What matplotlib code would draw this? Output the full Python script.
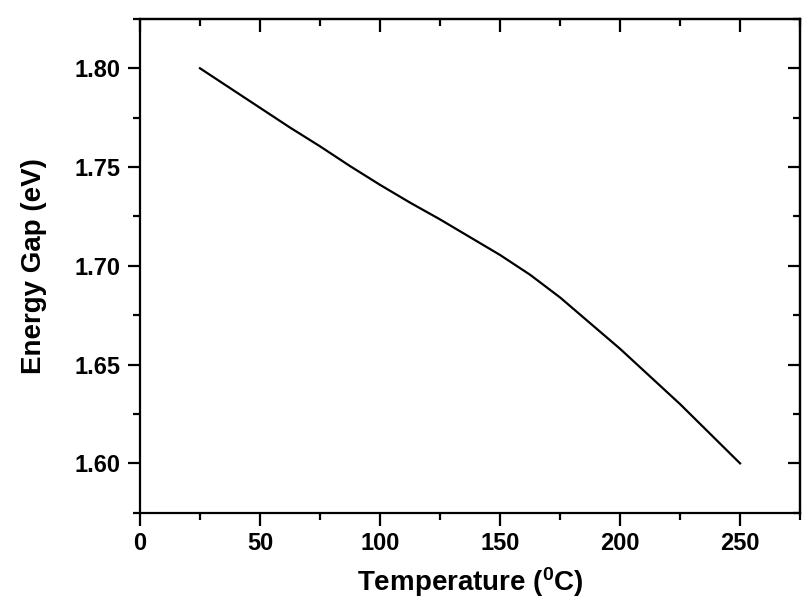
import numpy as np
import matplotlib
matplotlib.use('Agg')
import matplotlib.pyplot as plt
from matplotlib.ticker import MultipleLocator

plt.rcParams['font.family'] = ['Liberation Sans', 'DejaVu Sans']
plt.rcParams['font.weight'] = 'bold'
plt.rcParams['mathtext.fontset'] = 'custom'
plt.rcParams['mathtext.rm'] = 'Liberation Sans:bold'
plt.rcParams['mathtext.default'] = 'rm'

# temperature (C) and energy gap (eV)
temperature = [25, 37.5, 50, 62.5, 75, 87.5, 100, 112.5, 125, 137.5,
               150, 162.5, 175, 187.5, 200, 212.5, 225, 237.5, 250]
energy_gap = [1.800, 1.790, 1.780, 1.770, 1.7605, 1.7505, 1.741, 1.732, 1.7235, 1.7145,
              1.7055, 1.6955, 1.684, 1.671, 1.658, 1.644, 1.630, 1.615, 1.600]

fig = plt.figure(figsize=(8.09, 6.09), dpi=100)
ax = fig.add_axes([0.173, 0.158, 0.816, 0.811])

ax.plot(temperature, energy_gap, color='black', linewidth=1.6)

ax.set_xlim(0, 275)
ax.set_ylim(1.575, 1.825)
ax.xaxis.set_major_locator(MultipleLocator(50))
ax.xaxis.set_minor_locator(MultipleLocator(25))
ax.yaxis.set_major_locator(MultipleLocator(0.05))
ax.yaxis.set_minor_locator(MultipleLocator(0.025))
ax.yaxis.set_major_formatter(plt.FormatStrFormatter('%.2f'))

for s in ax.spines.values():
    s.set_linewidth(1.6)

ax.tick_params(which='both', direction='out', width=1.6, labelsize=17, pad=5)
ax.tick_params(which='major', length=9)
ax.tick_params(which='minor', length=5)

# inward ticks on top and right, no labels
top = ax.secondary_xaxis('top')
top.xaxis.set_major_locator(MultipleLocator(50))
top.xaxis.set_minor_locator(MultipleLocator(25))
top.tick_params(which='both', direction='in', width=1.6, labeltop=False)
top.tick_params(which='major', length=9)
top.tick_params(which='minor', length=5)

right = ax.secondary_yaxis('right')
right.yaxis.set_major_locator(MultipleLocator(0.05))
right.yaxis.set_minor_locator(MultipleLocator(0.025))
right.tick_params(which='both', direction='in', width=1.6, labelright=False)
right.tick_params(which='major', length=9)
right.tick_params(which='minor', length=5)
for sec in (top, right):
    for s in sec.spines.values():
        s.set_linewidth(1.6)

ax.set_xlabel('Temperature ($^{0}$C)', fontsize=20, fontweight='bold', labelpad=7)
ax.set_ylabel('Energy Gap (eV)', fontsize=20, fontweight='bold', labelpad=20)

fig.savefig('out.png', dpi=100)
